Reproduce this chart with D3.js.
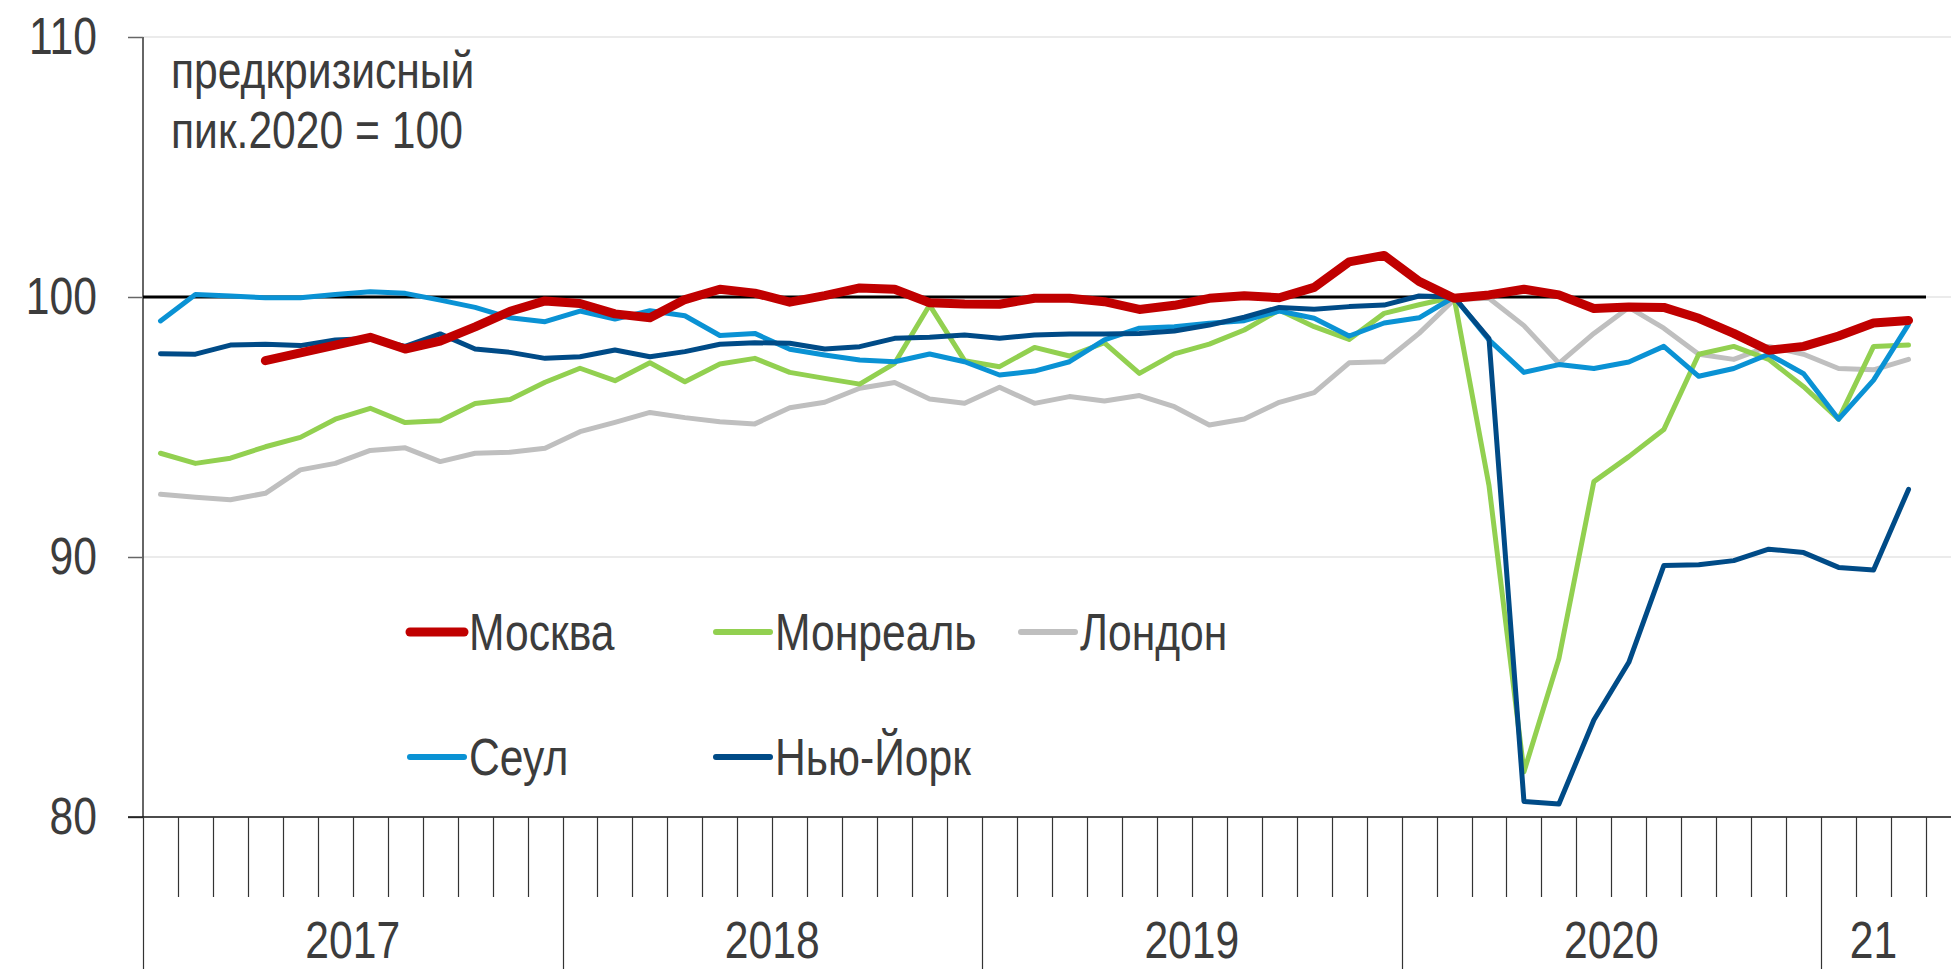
<!DOCTYPE html>
<html>
<head>
<meta charset="utf-8">
<script src="https://cdn.jsdelivr.net/npm/d3@7"></script>
<style>
  html, body { margin: 0; padding: 0; background: #fff; }
  svg { display: block; }
  text { font-family: "Liberation Sans Narrow", "Arial Narrow", "Liberation Sans", Arial, sans-serif; fill: #3c3c3c; }
</style>
</head>
<body>
<svg id="chart" width="1951" height="969"></svg>
<script>
// ---------- DATA ----------
const months = [
  "2017-01","2017-02","2017-03","2017-04","2017-05","2017-06","2017-07","2017-08","2017-09","2017-10","2017-11","2017-12",
  "2018-01","2018-02","2018-03","2018-04","2018-05","2018-06","2018-07","2018-08","2018-09","2018-10","2018-11","2018-12",
  "2019-01","2019-02","2019-03","2019-04","2019-05","2019-06","2019-07","2019-08","2019-09","2019-10","2019-11","2019-12",
  "2020-01","2020-02","2020-03","2020-04","2020-05","2020-06","2020-07","2020-08","2020-09","2020-10","2020-11","2020-12",
  "2021-01","2021-02","2021-03"
];
const yearLabels = ["2017", "2018", "2019", "2020", "21"];
const yearMonthCounts = [12, 12, 12, 12, 3];
const yTicks = [80, 90, 100, 110];

const moscow = [null, null, null, 97.55, 97.85, 98.15, 98.45, 98.0, 98.3, 98.85, 99.45, 99.85,
  99.75, 99.35, 99.2, 99.9, 100.3, 100.15, 99.8, 100.05, 100.35, 100.3, 99.78, 99.73,
  99.72, 99.95, 99.95, 99.82, 99.52, 99.68, 99.95, 100.05, 99.97, 100.37, 101.35, 101.6,
  100.6, 99.95, 100.08, 100.3, 100.08, 99.56, 99.62, 99.6, 99.18, 98.6, 97.95, 98.1,
  98.5, 99.0, 99.1];
const montreal = [93.99, 93.6, 93.8, 94.24, 94.6, 95.3, 95.72, 95.17, 95.24, 95.9, 96.06, 96.72,
  97.26, 96.78, 97.47, 96.74, 97.42, 97.64, 97.1, 96.87, 96.65, 97.45, 99.69, 97.55,
  97.32, 98.06, 97.73, 98.24, 97.06, 97.81, 98.19, 98.73, 99.5, 98.86, 98.37, 99.37,
  99.7, 100, 92.75, 81.74, 86.1, 92.9, 93.86, 94.9, 97.8, 98.1, 97.6, 96.55,
  95.3, 98.1, 98.15];
const london = [92.41, 92.3, 92.2, 92.45, 93.35, 93.6, 94.1, 94.2, 93.67, 93.99, 94.03, 94.18,
  94.82, 95.18, 95.56, 95.36, 95.2, 95.12, 95.74, 95.95, 96.49, 96.71, 96.08, 95.91,
  96.53, 95.91, 96.17, 96.0, 96.21, 95.78, 95.08, 95.31, 95.95, 96.32, 97.47, 97.51,
  98.6, 99.9, 99.95, 98.9, 97.45, 98.6, 99.6, 98.8, 97.8, 97.6, 98.1, 97.8,
  97.25, 97.2, 97.6];
const seoul = [99.08, 100.1, 100.04, 99.97, 99.97, 100.1, 100.2, 100.14, 99.88, 99.6, 99.2, 99.05,
  99.46, 99.15, 99.47, 99.28, 98.52, 98.6, 97.99, 97.77, 97.58, 97.51, 97.81, 97.51,
  97.0, 97.15, 97.51, 98.35, 98.8, 98.86, 98.99, 99.09, 99.46, 99.18, 98.5, 99.0,
  99.2, 100, 98.35, 97.1, 97.4, 97.25, 97.5, 98.1, 96.95, 97.25, 97.8, 97.05,
  95.3, 96.8, 98.95];
const newYork = [97.82, 97.8, 98.15, 98.18, 98.13, 98.35, 98.4, 98.1, 98.58, 98.0, 97.87, 97.64,
  97.7, 97.96, 97.7, 97.9, 98.18, 98.24, 98.22, 98.0, 98.09, 98.41, 98.45, 98.54,
  98.41, 98.54, 98.58, 98.58, 98.6, 98.69, 98.92, 99.22, 99.6, 99.53, 99.63, 99.69,
  100.04, 100, 98.4, 80.6, 80.5, 83.73, 85.95, 89.67, 89.7, 89.86, 90.3, 90.17,
  89.6, 89.5, 92.6];

const seriesNames = ["Москва", "Монреаль", "Лондон", "Сеул", "Нью-Йорк"];
const seriesValues = [moscow, montreal, london, seoul, newYork];
const annotationLines = ["предкризисный", "пик.2020 = 100"];

// ---------- STYLE ----------
const colors = ["#C00000", "#92D050", "#BFBFBF", "#0A92D4", "#004B87"];
const widths = [9, 5, 5, 5, 5];
const drawOrder = [2, 1, 3, 4, 0]; // Moscow on top

const svg = d3.select("#chart");
const W = 1951, H = 969;
const mLeft = 143, mRight = 1926, mTop = 37, mBottom = 817;
const fs = 52;
const SX = 0.82; // horizontal condensation to imitate a narrow typeface

function narrowAt(sel, fx, fy) {
  sel.attr("transform", function (d, i) {
    return `translate(${typeof fx === "function" ? fx(d, i) : fx},${typeof fy === "function" ? fy(d, i) : fy}) scale(${SX},1)`;
  }).attr("x", 0).attr("y", 0);
}

const x = d3.scaleBand().domain(months).range([mLeft, mRight]).padding(0);
const y = d3.scaleLinear().domain([80, 110]).range([mBottom, mTop]);

// gridlines
svg.append("g").selectAll("line").data(yTicks.filter(t => t !== 80 && t !== 100)).join("line")
  .attr("x1", mLeft).attr("x2", W)
  .attr("y1", d => y(d)).attr("y2", d => y(d))
  .attr("stroke", "#ebebeb").attr("stroke-width", 2);
svg.append("line").attr("x1", mRight).attr("x2", W).attr("y1", y(100)).attr("y2", y(100))
  .attr("stroke", "#ebebeb").attr("stroke-width", 2);

// y axis
const yAxis = d3.axisLeft(y).tickValues(yTicks).tickSize(15).tickPadding(31).tickFormat(d3.format("d"));
const gy = svg.append("g").attr("transform", `translate(${mLeft},0)`).call(yAxis);
gy.select(".domain").attr("stroke", "#333").attr("stroke-width", 1.5).attr("d", `M0,${mBottom}V${mTop}`);
gy.selectAll(".tick line").attr("stroke", "#666").attr("stroke-width", 1.5);
gy.selectAll(".tick text").attr("font-size", fs).attr("fill", "#3c3c3c")
  .style("font-family", '"Liberation Sans Narrow", "Arial Narrow", "Liberation Sans", Arial, sans-serif')
  .attr("transform", `translate(-46,0) scale(${SX},1)`).attr("x", 0);

// x axis baseline
svg.append("line").attr("x1", mLeft - 15).attr("x2", W).attr("y1", mBottom).attr("y2", mBottom)
  .attr("stroke", "#111").attr("stroke-width", 1.5);

// month ticks (band boundaries)
const boundaries = months.map((m, i) => i).concat([months.length]);
const yearStarts = [];
{ let acc = 0; yearMonthCounts.forEach(c => { yearStarts.push(acc); acc += c; }); }
const bx = i => (i < months.length ? x(months[i]) : x(months[months.length - 1]) + x.bandwidth());
svg.append("g").selectAll("line").data(boundaries).join("line")
  .attr("x1", d => Math.round(bx(d)) + 0.5).attr("x2", d => Math.round(bx(d)) + 0.5)
  .attr("y1", mBottom).attr("y2", d => yearStarts.includes(d) ? H : 897)
  .attr("stroke", "#333").attr("stroke-width", 1.2);

// year labels
svg.append("g").selectAll("text").data(yearLabels).join("text")
  .attr("text-anchor", "middle").attr("font-size", fs)
  .text(d => d)
  .call(narrowAt, (d, i) => (bx(yearStarts[i]) + bx(yearStarts[i] + yearMonthCounts[i])) / 2, 958);

// reference line at 100
svg.append("line").attr("x1", mLeft).attr("x2", mRight).attr("y1", y(100)).attr("y2", y(100))
  .attr("stroke", "#000").attr("stroke-width", 3);

// series lines
const line = d3.line()
  .defined(d => d.v !== null)
  .x(d => x(d.m) + x.bandwidth() / 2)
  .y(d => y(d.v));
svg.append("g").selectAll("path").data(drawOrder).join("path")
  .attr("d", k => line(months.map((m, i) => ({ m, v: seriesValues[k][i] }))))
  .attr("fill", "none")
  .attr("stroke", k => colors[k])
  .attr("stroke-width", k => widths[k])
  .attr("stroke-linejoin", "round")
  .attr("stroke-linecap", "round");

// annotation
const ann = svg.append("text").attr("font-size", fs).call(narrowAt, 171, 88);
ann.selectAll("tspan").data(annotationLines).join("tspan")
  .attr("x", 0).attr("dy", (d, i) => i === 0 ? 0 : 60).text(d => d);

// legend
const legendPos = [[408, 632], [714, 632], [1019, 632], [408, 757], [714, 757]];
const lg = svg.append("g").selectAll("g").data(seriesNames).join("g")
  .attr("transform", (d, i) => `translate(${legendPos[i][0]},${legendPos[i][1]})`);
lg.append("line").attr("x1", 2).attr("x2", 56).attr("y1", 0).attr("y2", 0)
  .attr("stroke", (d, i) => colors[i])
  .attr("stroke-width", (d, i) => i === 0 ? 9 : 6)
  .attr("stroke-linecap", "round");
lg.append("text").attr("font-size", fs).text(d => d).call(narrowAt, 61, 18);
</script>
</body>
</html>
